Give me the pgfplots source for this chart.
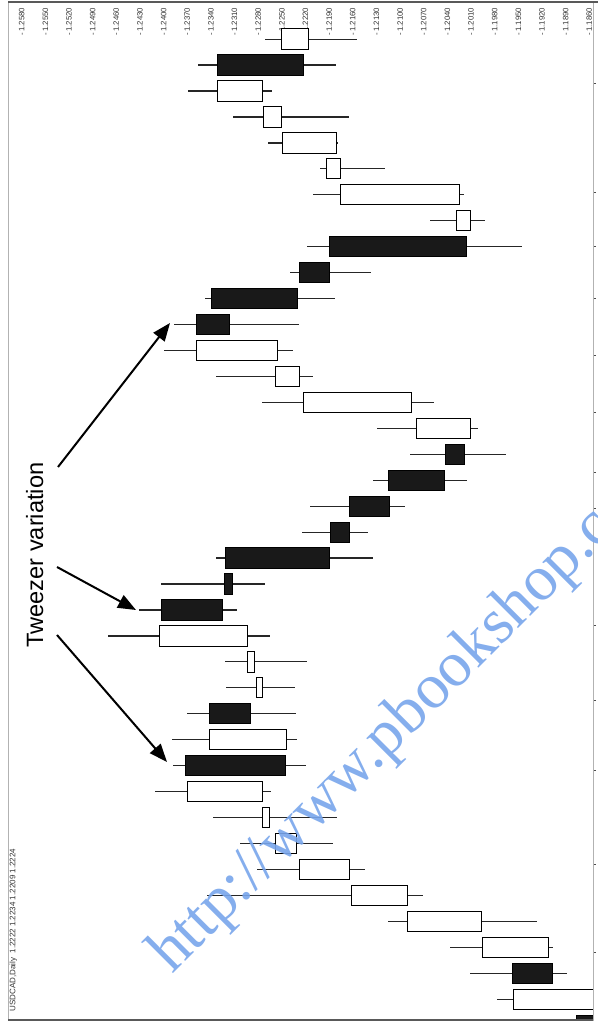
\documentclass[border=0pt]{standalone}
\usepackage{pgfplots}
\pgfplotsset{compat=1.18}
\usepackage{pgfplotstable}
\usepackage{fontspec}
\setmainfont{Liberation Sans}
\newfontfamily\wmfont{Liberation Serif}
\usetikzlibrary{arrows.meta}
\definecolor{wmblue}{RGB}{120,165,235}

\pgfplotstableread{
t o h l c
38 1.2216 1.2271 1.2155 1.2251
37 1.2332 1.2356 1.2181 1.2223
36 1.2274 1.2369 1.2263 1.2332
35 1.2250 1.2312 1.2165 1.2273
34 1.2181 1.2268 1.2179 1.2249
33 1.2175 1.2202 1.2119 1.2193
32 1.2025 1.2211 1.2019 1.2175
31 1.2011 1.2062 1.1992 1.2028
30 1.2189 1.2218 1.1945 1.2016
29 1.2228 1.2240 1.2137 1.2190
28 1.2339 1.2348 1.2183 1.2230
27 1.2358 1.2387 1.2228 1.2317
26 1.2256 1.2400 1.2236 1.2358
25 1.2227 1.2334 1.2211 1.2258
24 1.2085 1.2275 1.2057 1.2223
23 1.2011 1.2129 1.2001 1.2079
22 1.2043 1.2088 1.1966 1.2018
21 1.2115 1.2134 1.2015 1.2044
20 1.2164 1.2214 1.2094 1.2113
19 1.2188 1.2225 1.2141 1.2164
18 1.2321 1.2334 1.2134 1.2190
17 1.2323 1.2403 1.2271 1.2312
16 1.2403 1.2431 1.2307 1.2325
15 1.2293 1.2471 1.2265 1.2405
14 1.2285 1.2322 1.2218 1.2294
13 1.2275 1.2321 1.2233 1.2282
12 1.2342 1.2370 1.2232 1.2290
11 1.2244 1.2389 1.2231 1.2342
10 1.2372 1.2388 1.2219 1.2245
9 1.2275 1.2411 1.2264 1.2370
8 1.2266 1.2337 1.2180 1.2275
7 1.2231 1.2303 1.2185 1.2258
6 1.2164 1.2282 1.2145 1.2228
5 1.2090 1.2345 1.2071 1.2162
4 1.1997 1.2115 1.1926 1.2090
3 1.1912 1.2037 1.1906 1.1995
2 1.1957 1.2011 1.1888 1.1907
1 1.1821 1.1977 1.1800 1.1956
0 1.1876 1.1890 1.1780 1.1820
}\candles

\pgfplotsset{candleaxis/.style={
  at={(4pt,4.5pt)}, anchor=south west,
  scale only axis, width=292.5pt, height=509pt,
  x dir=reverse,
  xmin=1.18553, xmax=1.25974,
  ymin=0.2, ymax=39.43,
  clip=true,
}}

\begin{document}
\begin{tikzpicture}
% axis 1: frame, ticks, wicks
\begin{axis}[candleaxis,
  xtick={1.1860,1.1890,1.1920,1.1950,1.1980,1.2010,1.2040,1.2070,1.2100,1.2130,1.2160,1.2190,1.2220,1.2250,1.2280,1.2310,1.2340,1.2370,1.2400,1.2430,1.2460,1.2490,1.2520,1.2550,1.2580},
  xticklabels={{-\,1.1860},{-\,1.1890},{-\,1.1920},{-\,1.1950},{-\,1.1980},{-\,1.2010},{-\,1.2040},{-\,1.2070},{-\,1.2100},{-\,1.2130},{-\,1.2160},{-\,1.2190},{-\,1.2220},{-\,1.2250},{-\,1.2280},{-\,1.2310},{-\,1.2340},{-\,1.2370},{-\,1.2400},{-\,1.2430},{-\,1.2460},{-\,1.2490},{-\,1.2520},{-\,1.2550},{-\,1.2580}},
  xticklabel pos=upper,
  xtick pos=upper,
  major x tick style={draw=none},
  xticklabel shift=-18.5pt,
  xticklabel style={rotate=90, anchor=west, inner sep=0pt, font=\fontsize{3.9}{4}\selectfont, text=black!80},
  ytick={2.8,6.2,9.8,12.5,15.4,19.9,21.3,23.6,25.8,28,30,32.1,36.3},
  yticklabels={},
  ytick pos=right,
  tick align=outside,
  major tick length=1.5pt,
  major y tick style={black!70, line width=0.6pt},
  axis line style={gray!60, line width=0.4pt},
]
\addplot[draw=none, mark=none,
  error bars/.cd, x dir=both, x explicit, error mark=none,
  error bar style={draw=black!85, solid, line width=0.6pt}]
  table[x expr={(\thisrow{h}+\thisrow{l})/2}, y=t,
        x error expr={(\thisrow{h}-\thisrow{l})/2}] {\candles};
\end{axis}
% axis 2: bodies
\begin{axis}[candleaxis, hide axis, xbar stacked, bar width=0.78]
\addplot[draw=none, fill=none] table[x expr={min(\thisrow{o},\thisrow{c})}, y=t] {\candles};
\addplot[draw=black, fill=black!90, line width=0.5pt] table[x expr={max(\thisrow{o}-\thisrow{c},0)}, y=t] {\candles};
\addplot[draw=black, fill=white, line width=0.5pt] table[x expr={max(\thisrow{c}-\thisrow{o},0)}, y=t] {\candles};
\end{axis}
% frame lines
\draw[black!65, line width=1pt] (4pt,513.5pt) -- (299pt,513.5pt);
\draw[black!65, line width=1pt] (4pt,4.5pt) -- (296.5pt,4.5pt);
% annotations in pixel coordinates
\begin{scope}[x=0.5pt,y=-0.5pt,shift={(0pt,514.5pt)}]
\node[rotate=90, anchor=base west, inner sep=0pt, font=\fontsize{4}{4.5}\selectfont, text=black!80] at (15.5,1012) {USDCAD,Daily\ \ 1.2222 1.2234 1.2209 1.2224};
\node[rotate=90, anchor=base west, inner sep=0pt, font=\fontsize{11.8}{13}\selectfont] at (43,648) {Tweezer variation};
\draw[line width=1pt, -{Triangle[length=9pt,width=7pt]}] (58,467) -- (170,323);
\draw[line width=1pt, -{Triangle[length=9pt,width=7pt]}] (57,567) -- (136,610);
\draw[line width=1pt, -{Triangle[length=9pt,width=7pt]}] (57,635) -- (167,762);
\end{scope}
\begin{scope}
\clip (0,0) rectangle (299pt,514.5pt);
\begin{scope}[x=0.5pt,y=-0.5pt,shift={(0pt,514.5pt)}]
\node[rotate=45, anchor=base west, inner sep=0pt, text=wmblue, opacity=0.9, font=\wmfont\fontsize{32}{34}\selectfont] at (172,975) {http://www.pbookshop.com};
\end{scope}
\end{scope}
\pgfresetboundingbox
\path[use as bounding box] (0,0) rectangle (299pt,514.5pt);
\end{tikzpicture}
\end{document}
